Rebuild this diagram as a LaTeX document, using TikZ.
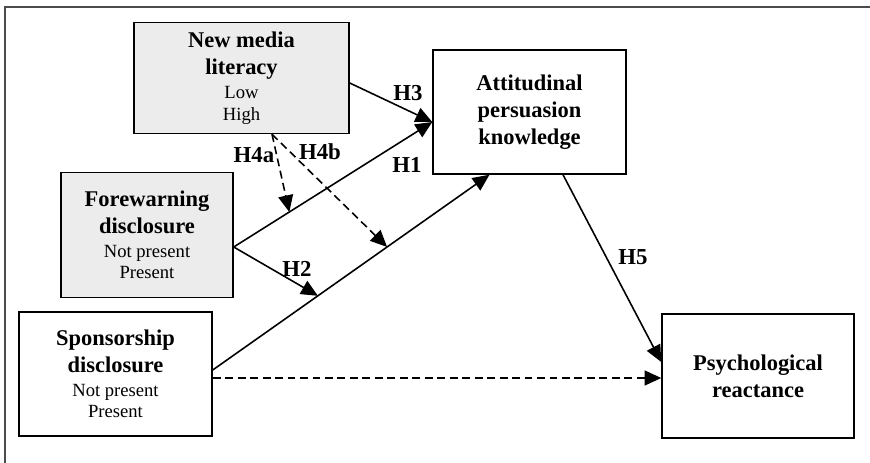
\documentclass[tikz,border=0pt]{standalone}
\usepackage{fontspec}
\setmainfont{Liberation Serif}
\usetikzlibrary{arrows.meta,calc}
\newcommand{\varname}[1]{{\fontsize{12.8}{15}\selectfont\bfseries #1}}
\begin{document}
\begin{tikzpicture}[x=0.02cm, y=-0.02cm,
  box/.style={draw, line width=0.85pt, align=center, inner sep=0pt, font=\fontsize{10.6}{12.2}\selectfont},
  shaded/.style={box, fill=gray!15},
  hyp/.style={font=\fontsize{13}{15}\selectfont\bfseries, inner sep=0pt},
  path/.style={line width=0.9pt, -{Triangle[length=9.5pt,width=8.5pt]}},
  mod/.style={path, dash pattern=on 4.5pt off 2.6pt}]
\useasboundingbox (0,0) rectangle (870,463);
\draw[gray!60!black, line width=0.6pt] (5,463) -- (5,7) -- (870,7);
\node[shaded, minimum width=4.3cm, minimum height=2.22cm] (nml) at (241.5,78)
  {\varname{New media}\\[3.2pt]\varname{literacy}\\[1.5pt]Low\\High};
\node[box, minimum width=3.86cm, minimum height=2.48cm] (att) at (529.5,112)
  {\varname{Attitudinal}\\[3.2pt]\varname{persuasion}\\[3.2pt]\varname{knowledge}};
\node[shaded, minimum width=3.44cm, minimum height=2.5cm] (fw) at (147,235)
  {\varname{Forewarning}\\[3.2pt]\varname{disclosure}\\[1.5pt]Not present\\Present};
\node[box, minimum width=3.86cm, minimum height=2.48cm] (sp) at (115.5,374)
  {\varname{Sponsorship}\\[3.2pt]\varname{disclosure}\\[1.5pt]Not present\\Present};
\node[box, minimum width=3.84cm, minimum height=2.48cm] (pr) at (758,376)
  {\varname{Psychological}\\[3.2pt]\varname{reactance}};
\coordinate (fwout) at ($(fw.east)+(0,12)$);
\coordinate (pkin) at ($(att.west)+(0,10)$);
\coordinate (spout) at ($(sp.east)+(0,-4)$);
\coordinate (pkbot) at ($(att.south)+(-40,0)$);
\coordinate (nmlout) at ($(nml.south)+(30.5,0)$);
\draw[path] ($(nml.east)+(0,5)$) -- (pkin);
\draw[path] (fwout) -- (pkin);
\draw[path] (spout) -- (pkbot);
\draw[path] (fwout) -- ($(spout)!0.38!(pkbot)$);
\draw[mod] (nmlout) -- ($(fwout)!0.28!(pkin)$);
\draw[mod] (nmlout) -- ($(spout)!0.63!(pkbot)$);
\draw[mod] ($(sp.east)+(0,4)$) -- ($(pr.west)+(0,2)$);
\draw[path] ($(att.south)+(33.5,0)$) -- ($(pr.west)+(0,-14)$);
\node[hyp] (h3) at (408,93) {H3};
\node[hyp] (h1) at (407,165) {H1};
\node[hyp] (h4a) at (254,155) {H4a};
\node[hyp] (h4b) at (320,152) {H4b};
\node[hyp] (h2) at (297,269) {H2};
\node[hyp] (h5) at (633,257) {H5};
\end{tikzpicture}
\end{document}
